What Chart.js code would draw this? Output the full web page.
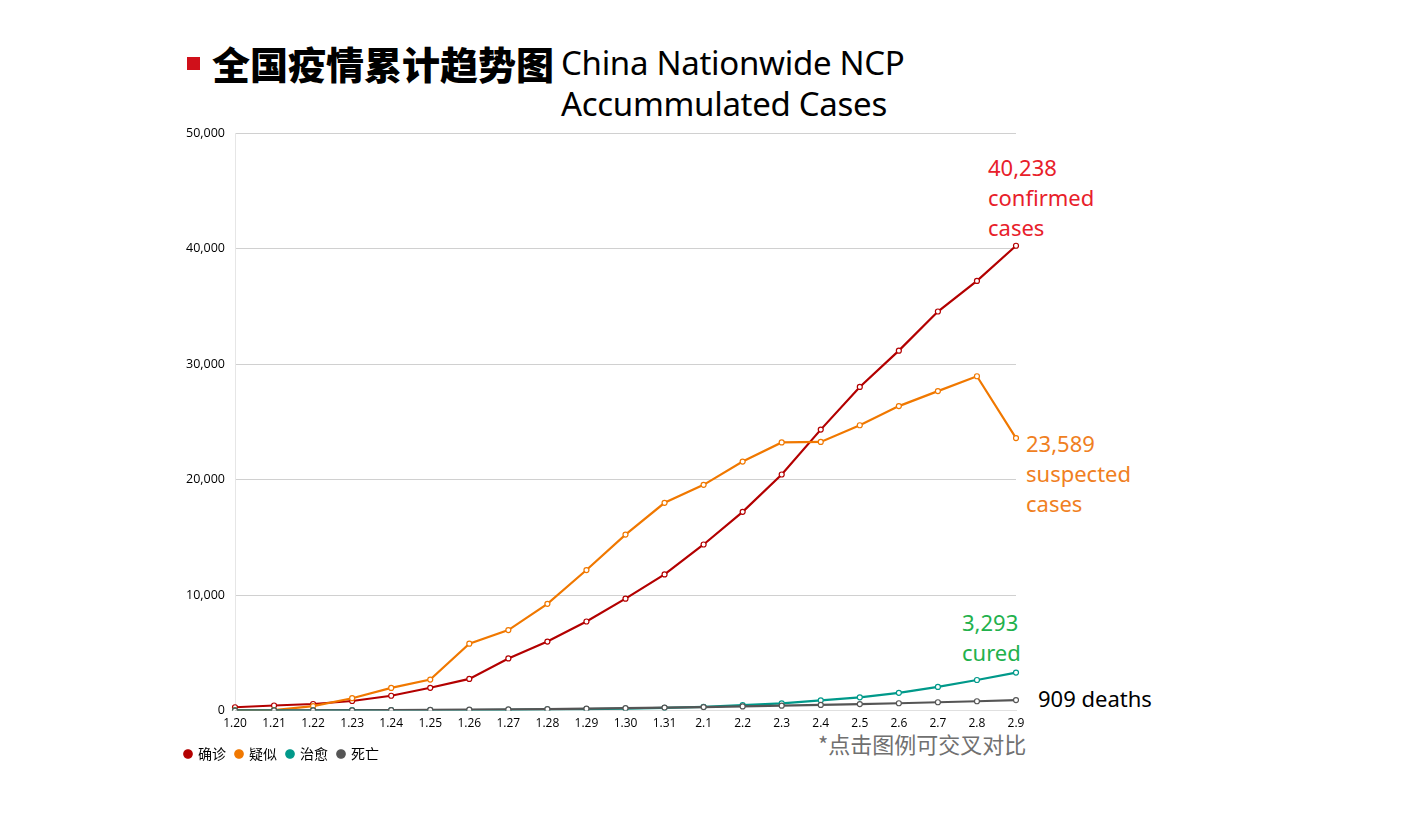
<!DOCTYPE html>
<html><head><meta charset="utf-8">
<script src="https://cdn.jsdelivr.net/npm/chart.js@4.4.1/dist/chart.umd.min.js"></script>
<style>
html,body{margin:0;padding:0;background:#fff;width:1403px;height:826px;overflow:hidden;position:relative;font-family:"Noto Sans","Noto Sans CJK SC",sans-serif}
#wrap{position:absolute;left:0;top:0;width:1403px;height:826px}
.t{position:absolute;white-space:nowrap}
</style></head><body>
<div class="t" style="left:187px;top:57px;width:13px;height:13px;background:#d0101a"></div>
<div class="t" style="left:212px;top:38px;font-family:'Noto Sans CJK SC';font-weight:900;font-size:38px;line-height:50px;color:#000">全国疫情累计趋势图</div>
<div class="t" style="left:561px;top:42px;font-family:'Noto Sans';font-size:33px;line-height:41px;color:#000;letter-spacing:-0.3px">China Nationwide NCP<br>Accummulated Cases</div>
<div class="t" style="left:988px;top:152px;font-size:22px;line-height:30px;color:#e8202a">40,238<br>confirmed<br>cases</div>
<div class="t" style="left:1026px;top:428px;font-size:22px;line-height:30px;color:#f07f22">23,589<br>suspected<br>cases</div>
<div class="t" style="left:962px;top:607px;font-size:22px;line-height:30px;color:#22b14c">3,293<br>cured</div>
<div class="t" style="left:1038px;top:683px;font-size:22px;line-height:30px;color:#000">909 deaths</div>
<div class="t" style="left:818px;top:729px;font-family:'Noto Sans CJK SC';font-size:22px;line-height:28px;color:#707070">*点击图例可交叉对比</div>
<div id="wrap"><canvas id="c" width="1403" height="826"></canvas></div>
<script>
const categories = ["1.20","1.21","1.22","1.23","1.24","1.25","1.26","1.27","1.28","1.29","1.30","1.31","2.1","2.2","2.3","2.4","2.5","2.6","2.7","2.8","2.9"];
const confirmed = [291,440,571,830,1287,1975,2744,4515,5974,7711,9692,11791,14380,17205,20438,24324,28018,31161,34546,37198,40238];
const suspected = [54,37,393,1072,1965,2684,5794,6973,9239,12167,15238,17988,19544,21558,23214,23260,24702,26359,27657,28942,23589];
const cured = [25,25,28,34,38,49,51,60,103,124,171,243,328,475,632,892,1153,1540,2050,2649,3293];
const deaths = [6,9,17,25,41,56,80,106,132,170,213,259,304,361,425,490,563,636,722,811,909];
const seriesNames = ["确诊","疑似","治愈","死亡"];
const yTicks = [0,10000,20000,30000,40000,50000];

function ds(label, data, color){
  return {label, data, borderColor:color, backgroundColor:color, borderWidth:2.2,
    pointRadius:2.5, pointBorderWidth:1.2, pointBackgroundColor:'#fff', pointBorderColor:color, tension:0};
}
new Chart(document.getElementById('c'), {
  type:'line',
  data:{labels:categories, datasets:[
    ds(seriesNames[3], deaths, '#555555'),
    ds(seriesNames[2], cured, '#00998a'),
    ds(seriesNames[1], suspected, '#f07800'),
    ds(seriesNames[0], confirmed, '#b30000')
  ]},
  options:{
    responsive:false, animation:false, devicePixelRatio:1,
    layout:{padding:{left:175,right:387,top:133,bottom:55}},
    scales:{
      x:{grid:{display:false,drawTicks:false}, border:{color:'#e0e0e0'},
         offset:false,
         ticks:{color:'#000',font:{family:'Open Sans',size:12},padding:6,maxRotation:0,autoSkip:false}},
      y:{min:0,max:50000, grid:{color:'#d0d0d0',drawTicks:false}, border:{display:true,color:'#e6e6e6'},
         afterBuildTicks:(s)=>{s.ticks=yTicks.map(v=>({value:v}));},
         afterFit:(s)=>{s.width=60;},
         ticks:{color:'#000',font:{family:'Open Sans',size:12.5},padding:10,
           callback:(v)=>v.toLocaleString('en-US')}}
    },
    plugins:{
      legend:{position:'bottom',align:'start',reverse:true,
        labels:{usePointStyle:true,pointStyle:'circle',boxWidth:6,boxHeight:6,padding:10,color:'#000',
          font:{family:'Noto Sans CJK SC',size:14},
          generateLabels:(chart)=>{
            const items = Chart.defaults.plugins.legend.labels.generateLabels(chart);
            items.forEach(it=>{it.fillStyle=it.strokeStyle;});
            return items;
          }}},
      tooltip:{enabled:false}
    }
  }
});
</script>
</body></html>
